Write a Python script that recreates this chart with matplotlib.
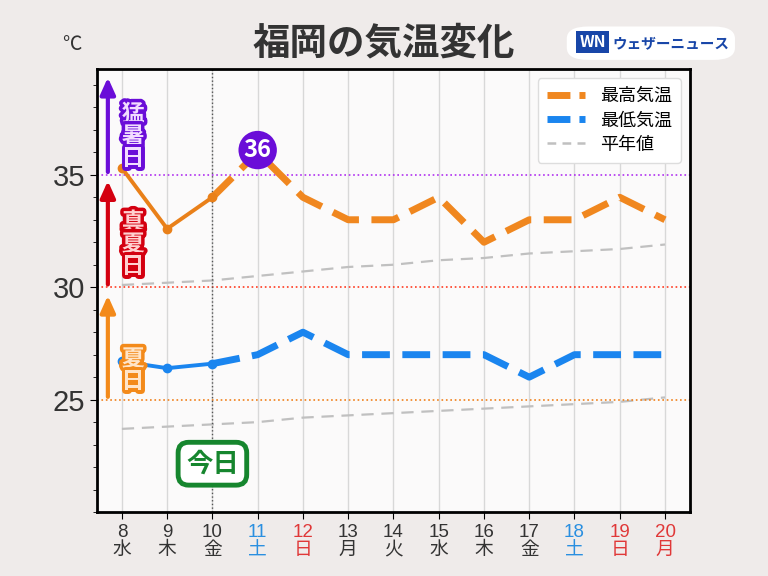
import matplotlib.pyplot as plt
import matplotlib.patheffects as pe
import numpy as np
from matplotlib.patches import FancyBboxPatch
from matplotlib.lines import Line2D

plt.rcParams['font.family'] = ['Noto Sans CJK JP', 'DejaVu Sans']

# data
days = [8, 9, 10, 11, 12, 13, 14, 15, 16, 17, 18, 19, 20]
weekdays = ['水', '木', '金', '土', '日', '月', '火', '水', '木', '金', '土', '日', '月']
day_colors = ['#333333', '#333333', '#333333', '#2a8fe0', '#e03838', '#333333', '#333333',
              '#333333', '#333333', '#333333', '#2a8fe0', '#e03838', '#e03838']
high = [35.3, 32.6, 34.0, 36.0, 34.0, 33.0, 33.0, 34.0, 32.0, 33.0, 33.0, 34.0, 33.0]
low = [26.7, 26.4, 26.6, 27.0, 28.0, 27.0, 27.0, 27.0, 27.0, 26.0, 27.0, 27.0, 27.0]
high_normal = [30.1, 30.2, 30.3, 30.5, 30.7, 30.9, 31.0, 31.2, 31.3, 31.5, 31.6, 31.7, 31.9]
low_normal = [23.7, 23.8, 23.9, 24.0, 24.2, 24.3, 24.4, 24.5, 24.6, 24.7, 24.8, 24.9, 25.1]
today = 10
n_obs = 3  # 8,9,10 observed

orange = '#f0871f'
blue = '#1a85ef'
gray = '#c0c0c0'

fig = plt.figure(figsize=(7.68, 5.76), dpi=100, facecolor='#efebea')
ax = fig.add_axes([0.1263, 0.111, 0.772, 0.769], facecolor='#fbfafa')

# normals
ax.plot(days, high_normal, color=gray, lw=1.6, dashes=(5.5, 3.5))
ax.plot(days, low_normal, color=gray, lw=1.6, dashes=(5.5, 3.5))

# observed part
ax.plot(days[:n_obs], high[:n_obs], color='#e98019', lw=2.8, marker='o', ms=6, zorder=4)
ax.plot(days[:n_obs], low[:n_obs], color=blue, lw=2.8, marker='o', ms=6, zorder=4)
# forecast part
ax.plot(days[n_obs - 1:], high[n_obs - 1:], color=orange, lw=5, dashes=(4, 1.8), zorder=3)
ax.plot(days[n_obs - 1:], low[n_obs - 1:], color=blue, lw=5, dashes=(4, 1.8), zorder=3)

# threshold lines
ax.axhline(35, color='#b030f0', lw=1.2, ls=':', zorder=2)
ax.axhline(30, color='#ff3a20', lw=1.2, ls=':', zorder=2)
ax.axhline(25, color='#f0801a', lw=1.2, ls=':', zorder=2)
ax.axvline(today, color='#555555', lw=1, ls=':', zorder=2)

ax.set_xlim(7.45, 20.55)
ax.set_ylim(20, 39.7)
ax.set_xticks(days)
ax.set_xticklabels([f'{d}\n{w}' for d, w in zip(days, weekdays)], fontsize=13.5, linespacing=1.1,
                   family=['Liberation Sans', 'Noto Sans CJK JP'])
ax.set_yticks([25, 30, 35])
ax.set_yticks(np.arange(20, 40, 1), minor=True)
ax.tick_params(axis='y', labelsize=21, labelcolor='#333333', length=5)
ax.tick_params(axis='y', which='minor', length=3)
ax.tick_params(axis='x', length=5)
for lab in ax.get_yticklabels():
    lab.set_family('Liberation Sans')
for lab, c in zip(ax.get_xticklabels(), day_colors):
    lab.set_color(c)
ax.grid(axis='x', color='#d8d8d8', lw=1)
for s in ax.spines.values():
    s.set_linewidth(2)
    s.set_color('black')

# arrows and labels on the left
arrows = [(35, 39.45, '#6a0dd8', '猛\n暑\n日', '#f2dcff', 36.7),
          (30, 34.85, '#d40010', '真\n夏\n日', '#ffd0d0', 31.9),
          (25, 29.75, '#f38a1a', '夏\n日', '#ffe4c8', 26.3)]
for y0, y1, c, txt, fill, ty in arrows:
    ax.annotate('', xy=(7.69, y1), xytext=(7.69, y0),
                arrowprops=dict(arrowstyle='-|>,head_length=1.0,head_width=0.45', color=c, lw=3))
    ax.text(8.25, ty, txt, color=fill, fontsize=16.5, fontweight='bold', ha='center', va='center',
            linespacing=0.95, zorder=6,
            path_effects=[pe.withStroke(linewidth=5, foreground=c)])

# max marker
ax.text(11, 36.1, '36', color='white', fontsize=17, fontweight='bold', ha='center', va='center',
        zorder=7, bbox=dict(boxstyle='circle,pad=0.22', fc='#6a0dd8', ec='none'))

# today box
ax.text(today, 22.15, '今日', color='#16862e', fontsize=19, fontweight='bold', ha='center', va='center',
        zorder=7, bbox=dict(boxstyle='round,pad=0.3,rounding_size=0.4', fc='white', ec='#16862e', lw=3.5))

# legend
handles = [Line2D([], [], color=orange, lw=5, dashes=(3.3, 1.3)),
           Line2D([], [], color=blue, lw=5, dashes=(3.3, 1.3)),
           Line2D([], [], color=gray, lw=1.8, dashes=(3.5, 2.5))]
ax.legend(handles, ['最高気温', '最低気温', '平年値'], loc='upper right', fontsize=13,
          handlelength=2.15, framealpha=1, edgecolor='#dddddd', borderpad=0.5, labelspacing=0.35)

# title and unit
fig.text(0.5, 0.926, '福岡の気温変化', fontsize=27, fontweight='bold', color='#333333', ha='center', va='center')
fig.text(0.094, 0.922, '℃', fontsize=14, color='#333333', ha='center', va='center')

# logo
logo = FancyBboxPatch((0.738, 0.896), 0.219, 0.058, boxstyle='round,pad=0,rounding_size=0.028',
                      transform=fig.transFigure, fc='white', ec='none', mutation_aspect=0.75)
fig.patches.append(logo)
fig.text(0.772, 0.927, 'WN', fontsize=11.5, fontweight='bold', style='italic', color='white',
         ha='center', va='center', bbox=dict(boxstyle='square,pad=0.2', fc='#1846a8', ec='none'))
fig.text(0.798, 0.925, 'ウェザーニュース', fontsize=10.5, fontweight='bold', color='#1846a8',
         ha='left', va='center')

fig.savefig('out.png', dpi=100, facecolor=fig.get_facecolor())
